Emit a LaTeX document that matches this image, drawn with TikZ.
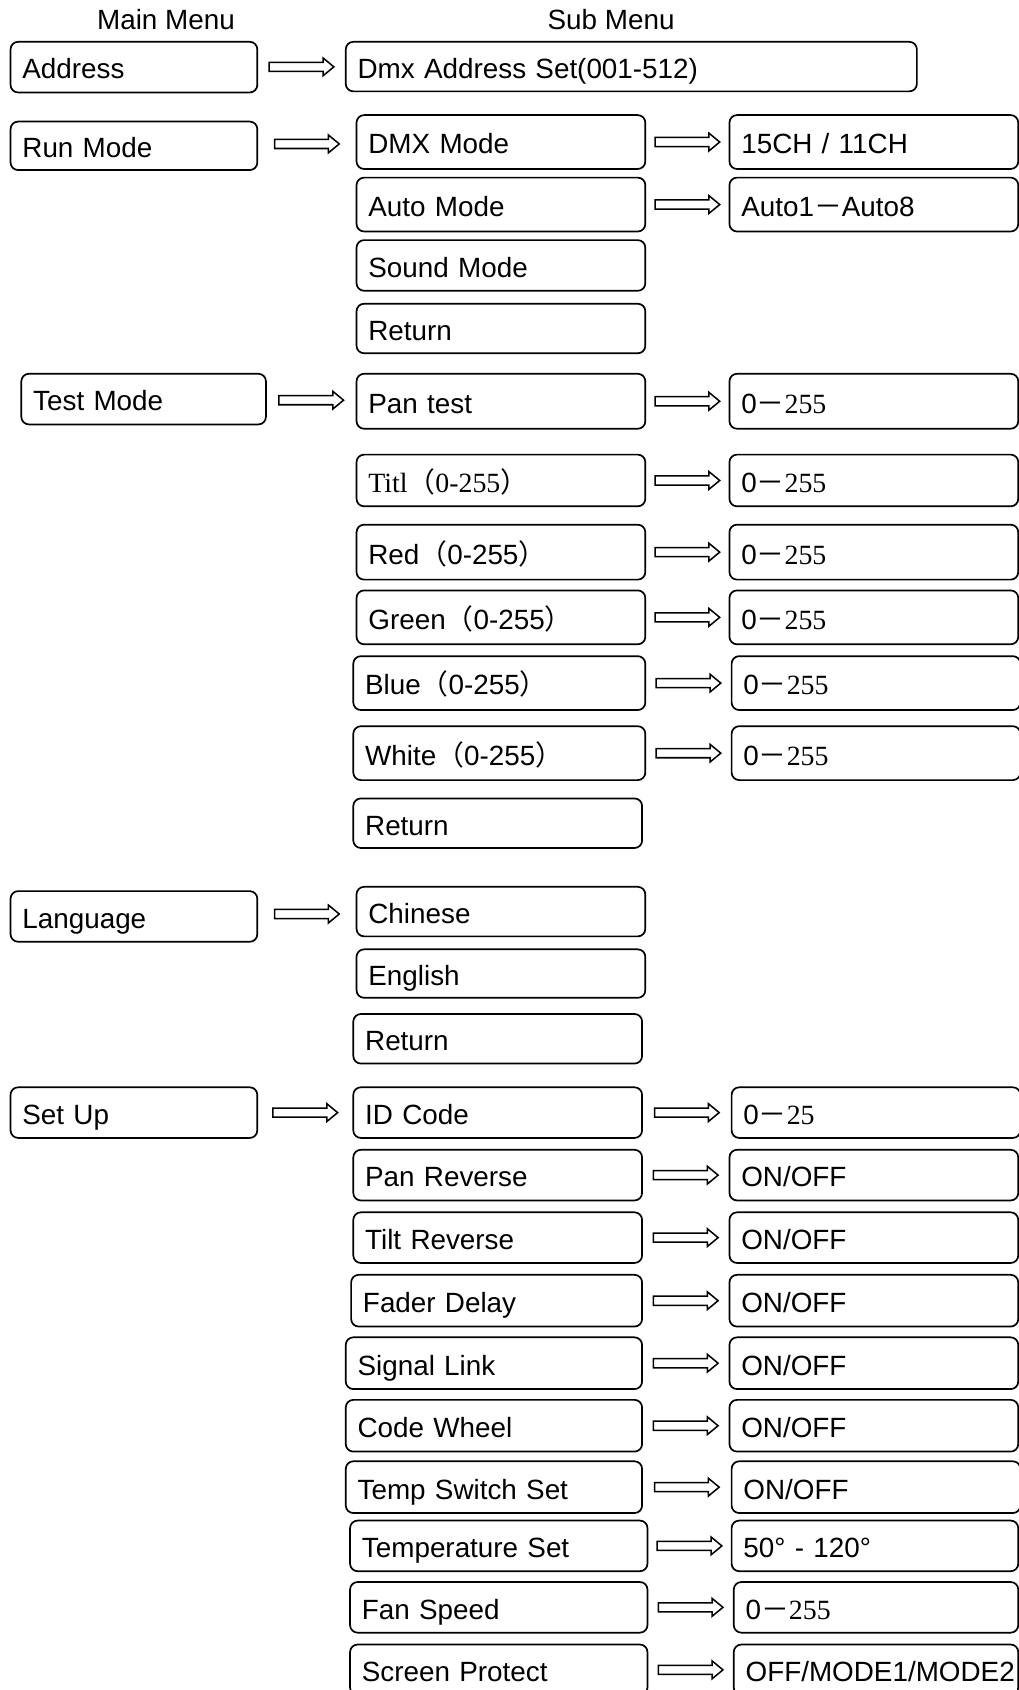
\documentclass[tikz,border=0pt]{standalone}
\usepackage{fontspec}
\setmainfont{Liberation Sans}
\newfontfamily\cjk{Noto Sans CJK SC}
\newfontfamily\serifnum{Liberation Serif}
\usetikzlibrary{calc}
\newcommand\fwlp{{\cjk （}}
\newcommand\fwrp{{\cjk ）}}
\newcommand\fwdash{{\cjk －}}
\newcommand\valrange[1]{0\fwdash{\serifnum #1}}

\tikzset{
  box/.style={draw,line width=0.9pt,rounded corners=4pt,anchor=north west,
    inner xsep=0.22cm,inner ysep=0pt,align=left,text width=4.92cm,
    text height=0.5cm,text depth=0.06cm,
    minimum height=0.94cm,font=\fontsize{14.7}{17}\selectfont},
  head/.style={font=\fontsize{14.7}{17}\selectfont},
  hollow/.style={draw,line width=0.8pt,fill=white,
    to path={let \p1=(\tikztostart),\p2=(\tikztotarget) in
      ({(\x1+\x2)/2-0.6cm},{(\y1+\y2)/2+0.085cm}) --++(1cm,0pt) --++(0pt,0.08cm)
      --++(0.2cm,-0.165cm) --++(-0.2cm,-0.165cm) --++(0pt,0.08cm) --++(-1cm,0pt) -- cycle}}
}

\begin{document}
\begin{tikzpicture}[x=0.02cm,y=-0.02cm]
\useasboundingbox (0,0) rectangle (945,1568);

\node[head] (mainhead) at (154,18) {Main Menu};
\node[head] (subhead) at (567,18) {Sub Menu};

% address
\node[box,text width=4.14cm] (addr) at (9,38) {Address};
\node[box,text width=10.16cm,minimum height=0.92cm] (dmxaddr) at (320,38) {Dmx Address Set(001-512)};
\draw[hollow] (addr.east) to (dmxaddr.west);

% run mode
\node[box,text width=4.14cm,minimum height=0.9cm] (runmode) at (9,112) {Run Mode};
\node[box,minimum height=1cm] (dmxmode) at (330,106) {DMX Mode};
\node[box,minimum height=1cm] (chval) at (676,106) {15CH / 11CH};
\node[box,minimum height=1cm] (automode) at (330,164) {Auto Mode};
\node[box,minimum height=1cm] (autoval) at (676,164) {Auto1\fwdash Auto8};
\node[box] (soundmode) at (330,222) {Sound Mode};
\node[box,minimum height=0.92cm] (retrun) at (330,281) {Return};
\draw[hollow] (runmode.east) to (dmxmode.west);
\draw[hollow] (dmxmode.east) to (chval.west);
\draw[hollow] (automode.east) to (autoval.west);

% test mode
\node[box,text width=4.10cm] (testmode) at (19,346) {Test Mode};
\node[box,minimum height=1.02cm] (pantest) at (330,346) {Pan test};
\node[box,minimum height=1.02cm] (panval) at (676,346) {\valrange{255}};
\node[box,minimum height=0.96cm] (titl) at (330,421) {\serifnum Titl\fwlp 0-255\fwrp};
\node[box,minimum height=0.96cm] (titlval) at (676,421) {\valrange{255}};
\node[box,minimum height=1.02cm] (red) at (330,486) {Red\fwlp 0-255\fwrp};
\node[box,minimum height=1.02cm] (redval) at (676,486) {\valrange{255}};
\node[box,minimum height=1cm] (green) at (330,547) {Green\fwlp 0-255\fwrp};
\node[box,minimum height=1cm] (greenval) at (676,547) {\valrange{255}};
\node[box,text width=4.98cm,minimum height=1cm] (blue) at (327,608) {Blue\fwlp 0-255\fwrp};
\node[box,minimum height=1cm] (blueval) at (678,608) {\valrange{255}};
\node[box,text width=4.98cm,minimum height=1cm] (white) at (327,673) {White\fwlp 0-255\fwrp};
\node[box,minimum height=1cm] (whiteval) at (678,673) {\valrange{255}};
\node[box,minimum height=0.92cm] (rettest) at (327,740) {Return};
\draw[hollow] (testmode.east) to (pantest.west);
\draw[hollow] (pantest.east) to (panval.west);
\draw[hollow] (titl.east) to (titlval.west);
\draw[hollow] (red.east) to (redval.west);
\draw[hollow] (green.east) to (greenval.west);
\draw[hollow] (blue.east) to (blueval.west);
\draw[hollow] (white.east) to (whiteval.west);

% language
\node[box,text width=4.14cm] (language) at (9,826) {Language};
\node[box,minimum height=0.92cm] (chinese) at (330,822) {Chinese};
\node[box,minimum height=0.9cm] (english) at (330,880) {English};
\node[box,minimum height=0.92cm] (retlang) at (327,940) {Return};
\draw[hollow] (language.east) to (chinese.west);

% set up
\node[box,text width=4.14cm] (setup) at (9,1008) {Set Up};
\node[box] (idcode) at (327,1008) {ID Code};
\node[box] (idval) at (678,1008) {\valrange{25}};
\node[box] (panrev) at (327,1066) {Pan Reverse};
\node[box] (panrevval) at (676,1066) {ON/OFF};
\node[box] (tiltrev) at (327,1124) {Tilt Reverse};
\node[box] (tiltrevval) at (676,1124) {ON/OFF};
\node[box,text width=4.96cm,minimum height=0.96cm] (fader) at (325,1182) {Fader Delay};
\node[box,minimum height=0.96cm] (faderval) at (676,1182) {ON/OFF};
\node[box,text width=5.06cm,minimum height=0.96cm] (signal) at (320,1240) {Signal Link};
\node[box,minimum height=0.96cm] (signalval) at (676,1240) {ON/OFF};
\node[box,text width=5.06cm,minimum height=0.96cm] (codewheel) at (320,1298) {Code Wheel};
\node[box,minimum height=0.96cm] (codewheelval) at (676,1298) {ON/OFF};
\node[box,text width=5.06cm,minimum height=0.96cm] (tempswitch) at (320,1355) {Temp Switch Set};
\node[box,minimum height=0.96cm] (tempswitchval) at (678,1355) {ON/OFF};
\node[box,text width=5.08cm] (tempset) at (324,1410) {Temperature Set};
\node[box,text width=4.88cm] (tempsetval) at (678,1410) {50° - 120°};
\node[box,text width=5.08cm] (fanspeed) at (324,1467) {Fan Speed};
\node[box,text width=4.84cm] (fanval) at (680,1467) {\valrange{255}};
\node[box,text width=5.08cm] (screen) at (324,1525) {Screen Protect};
\node[box,text width=4.84cm] (screenval) at (680,1525) {OFF/MODE1/MODE2};
\draw[hollow] (setup.east) to (idcode.west);
\draw[hollow] (idcode.east) to (idval.west);
\draw[hollow] (panrev.east) to (panrevval.west);
\draw[hollow] (tiltrev.east) to (tiltrevval.west);
\draw[hollow] (fader.east) to (faderval.west);
\draw[hollow] (signal.east) to (signalval.west);
\draw[hollow] (codewheel.east) to (codewheelval.west);
\draw[hollow] (tempswitch.east) to (tempswitchval.west);
\draw[hollow] (tempset.east) to (tempsetval.west);
\draw[hollow] (fanspeed.east) to (fanval.west);
\draw[hollow] (screen.east) to (screenval.west);
\end{tikzpicture}
\end{document}
